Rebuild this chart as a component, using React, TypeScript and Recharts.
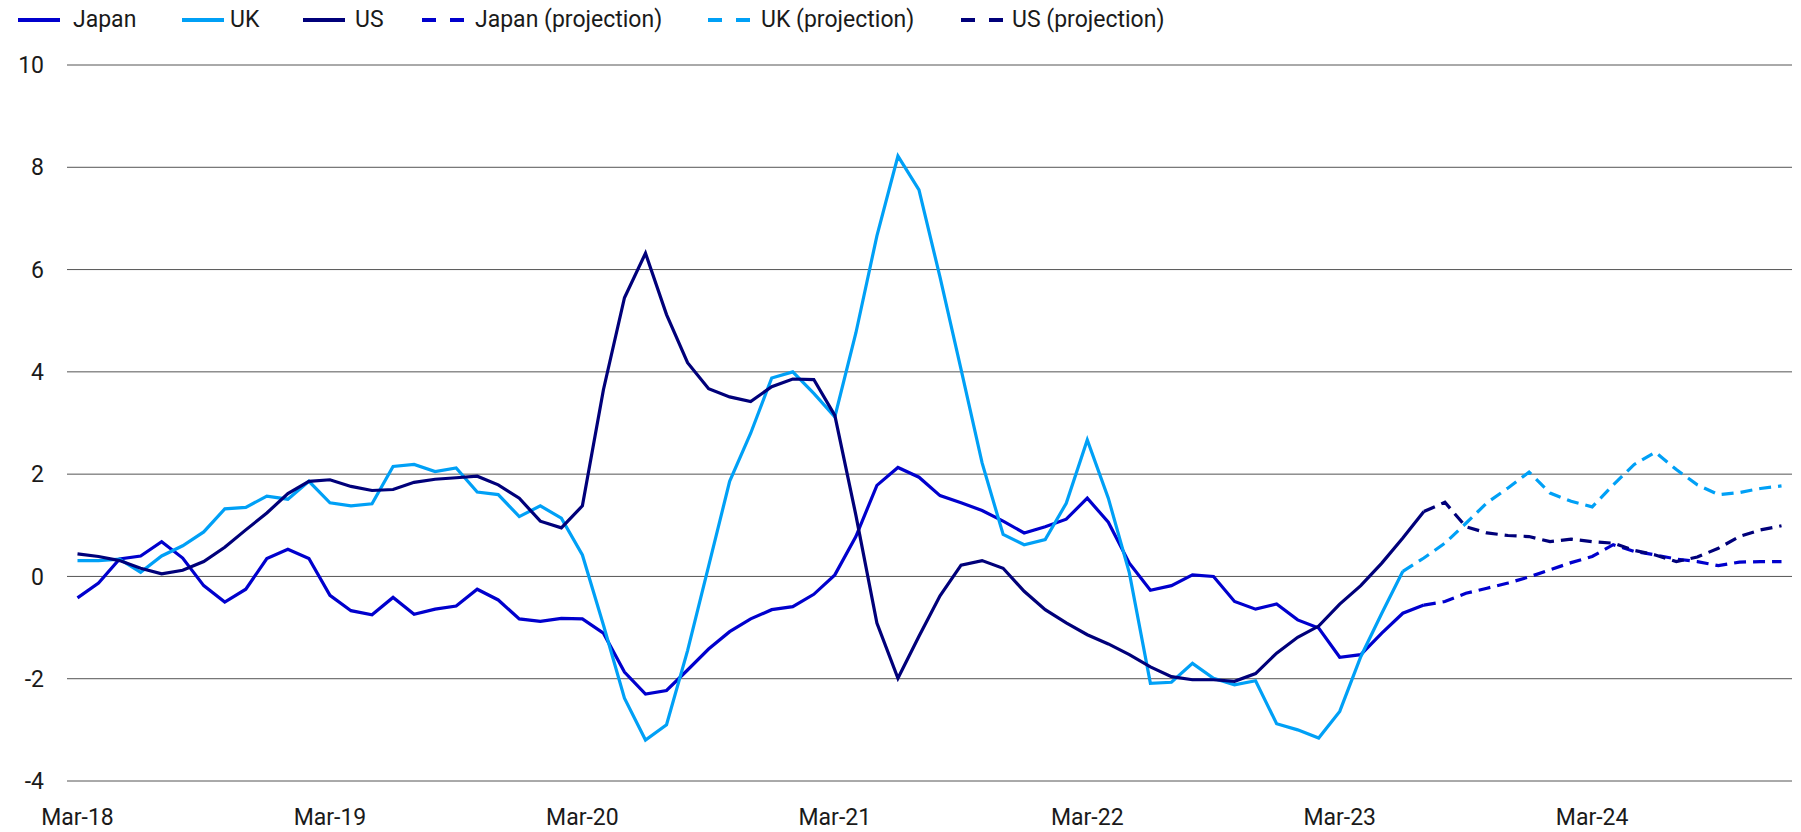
import { CartesianGrid, Line, LineChart, XAxis, YAxis } from 'recharts';

// Monthly, Mar-18 .. Dec-24. Actuals run to mid-2023, projections after.
const MONTH_NAMES = ['Jan', 'Feb', 'Mar', 'Apr', 'May', 'Jun', 'Jul', 'Aug', 'Sep', 'Oct', 'Nov', 'Dec'];
const months: string[] = [];
for (let i = 0; i < 82; i++) {
  const m = (2 + i) % 12;
  const y = 18 + Math.floor((2 + i) / 12);
  months.push(`${MONTH_NAMES[m]}-${y}`);
}
const xTicks = ['Mar-18', 'Mar-19', 'Mar-20', 'Mar-21', 'Mar-22', 'Mar-23', 'Mar-24'];
const yTicks = [-4, -2, 0, 2, 4, 6, 8, 10];

const japan = [
  -0.42, -0.13, 0.34, 0.4, 0.68, 0.36, -0.18, -0.5, -0.25, 0.35, 0.53, 0.35,
  -0.37, -0.67, -0.75, -0.41, -0.74, -0.64, -0.58, -0.25, -0.46, -0.83, -0.88, -0.82,
  -0.83, -1.11, -1.87, -2.3, -2.23, -1.83, -1.42, -1.08, -0.83, -0.65, -0.59, -0.35,
  0.03, 0.78, 1.78, 2.13, 1.94, 1.58, 1.44, 1.29, 1.08, 0.85, 0.97, 1.12,
  1.53, 1.06, 0.26, -0.27, -0.18, 0.03, 0.0, -0.49, -0.64, -0.54, -0.85, -1.01,
  -1.58, -1.53, -1.11, -0.72, -0.56,
];
const uk = [
  0.31, 0.31, 0.34, 0.08, 0.4, 0.6, 0.87, 1.32, 1.35, 1.57, 1.51, 1.86,
  1.44, 1.38, 1.42, 2.15, 2.19, 2.05, 2.12, 1.65, 1.6, 1.17, 1.38, 1.14,
  0.42, -0.95, -2.38, -3.2, -2.9, -1.45, 0.2, 1.86, 2.8, 3.88, 4.0, 3.58,
  3.12, 4.76, 6.66, 8.22, 7.56, 5.85, 4.05, 2.22, 0.82, 0.62, 0.72, 1.43,
  2.67, 1.53, 0.07, -2.09, -2.07, -1.7, -1.99, -2.12, -2.04, -2.88, -3.0, -3.16,
  -2.64, -1.57, -0.72, 0.1,
];
const us = [
  0.44, 0.39, 0.31, 0.16, 0.05, 0.12, 0.29, 0.57, 0.91, 1.24, 1.62, 1.86,
  1.89, 1.76, 1.68, 1.7, 1.84, 1.9, 1.93, 1.96, 1.79, 1.53, 1.08, 0.95,
  1.38, 3.65, 5.45, 6.32, 5.12, 4.18, 3.67, 3.51, 3.42, 3.71, 3.86, 3.85,
  3.15, 1.2, -0.91, -1.99, -1.17, -0.38, 0.22, 0.31, 0.16, -0.29, -0.65, -0.91,
  -1.14, -1.32, -1.53, -1.77, -1.96, -2.02, -2.02, -2.05, -1.9, -1.5, -1.19, -0.97,
  -0.54, -0.18, 0.26, 0.75, 1.27,
];

// projections start at the last actual month
const japanProjStart = 64;
const japanProj = [
  -0.56, -0.49, -0.33, -0.23, -0.13, -0.01, 0.13, 0.27, 0.39, 0.62, 0.49, 0.42,
  0.34, 0.29, 0.21, 0.28, 0.29, 0.29,
];
const ukProjStart = 63;
const ukProj = [
  0.1, 0.36, 0.65, 1.04, 1.44, 1.73, 2.04, 1.63, 1.47, 1.36, 1.79, 2.19,
  2.43, 2.09, 1.79, 1.6, 1.64, 1.72, 1.77,
];
const usProjStart = 64;
const usProj = [
  1.27, 1.45, 0.97, 0.85, 0.8, 0.78, 0.68, 0.73, 0.68, 0.65, 0.51, 0.42,
  0.29, 0.38, 0.55, 0.78, 0.91, 0.99,
];

const COLORS = { japan: '#0000CD', uk: '#00A0F6', us: '#00007A' };
const DASH = '12 7';
const FONT = 'Roboto, "Noto Sans", sans-serif';

const rows = months.map((month, i) => ({
  month,
  japan: i < japan.length ? japan[i] : null,
  uk: i < uk.length ? uk[i] : null,
  us: i < us.length ? us[i] : null,
  japanP: i >= japanProjStart ? japanProj[i - japanProjStart] ?? null : null,
  ukP: i >= ukProjStart ? ukProj[i - ukProjStart] ?? null : null,
  usP: i >= usProjStart ? usProj[i - usProjStart] ?? null : null,
}));

const legendItems = [
  { label: 'Japan', color: COLORS.japan, dashed: false, iconX: 18, textX: 73 },
  { label: 'UK', color: COLORS.uk, dashed: false, iconX: 182, textX: 230 },
  { label: 'US', color: COLORS.us, dashed: false, iconX: 303, textX: 355 },
  { label: 'Japan (projection)', color: COLORS.japan, dashed: true, iconX: 422, textX: 475 },
  { label: 'UK (projection)', color: COLORS.uk, dashed: true, iconX: 708, textX: 761 },
  { label: 'US (projection)', color: COLORS.us, dashed: true, iconX: 961, textX: 1012 },
];

const tickStyle = { fill: '#1a1a1a', fontSize: 23, fontFamily: FONT };

export default function App() {
  return (
    <div style={{ position: 'absolute', left: 0, top: 0, width: 1801, height: 832, background: '#fff', fontFamily: FONT }}>
      {legendItems.map((it) => (
        <div key={it.label}>
          <svg width={44} height={8} style={{ position: 'absolute', left: it.iconX, top: 16 }}>
            <line
              x1={0}
              x2={42}
              y1={4}
              y2={4}
              stroke={it.color}
              strokeWidth={4}
              strokeDasharray={it.dashed ? '14 14' : undefined}
            />
          </svg>
          <div
            style={{
              position: 'absolute',
              left: it.textX,
              top: 8,
              fontSize: 23,
              lineHeight: '23px',
              color: '#1a1a1a',
              whiteSpace: 'nowrap',
            }}
          >
            {it.label}
          </div>
        </div>
      ))}
      <LineChart width={1801} height={832} data={rows} margin={{ top: 65, right: 9, bottom: 0, left: 7 }}>
        <CartesianGrid vertical={false} stroke="#555555" strokeWidth={1} />
        <XAxis
          dataKey="month"
          ticks={xTicks}
          interval={0}
          padding={{ left: 10.5, right: 10.5 }}
          axisLine={false}
          tickLine={false}
          tickSize={0}
          tickMargin={28}
          height={51}
          tick={tickStyle}
        />
        <YAxis
          domain={[-4, 10]}
          ticks={yTicks}
          interval={0}
          width={60}
          axisLine={false}
          tickLine={false}
          tickSize={0}
          tickMargin={23}
          tick={tickStyle}
        />
        <Line type="linear" dataKey="japan" stroke={COLORS.japan} strokeWidth={3.2} dot={false} isAnimationActive={false} />
        <Line type="linear" dataKey="uk" stroke={COLORS.uk} strokeWidth={3.2} dot={false} isAnimationActive={false} />
        <Line type="linear" dataKey="us" stroke={COLORS.us} strokeWidth={3.2} dot={false} isAnimationActive={false} />
        <Line type="linear" dataKey="japanP" stroke={COLORS.japan} strokeWidth={3.2} strokeDasharray={DASH} dot={false} isAnimationActive={false} />
        <Line type="linear" dataKey="ukP" stroke={COLORS.uk} strokeWidth={3.2} strokeDasharray={DASH} dot={false} isAnimationActive={false} />
        <Line type="linear" dataKey="usP" stroke={COLORS.us} strokeWidth={3.2} strokeDasharray={DASH} dot={false} isAnimationActive={false} />
      </LineChart>
    </div>
  );
}
